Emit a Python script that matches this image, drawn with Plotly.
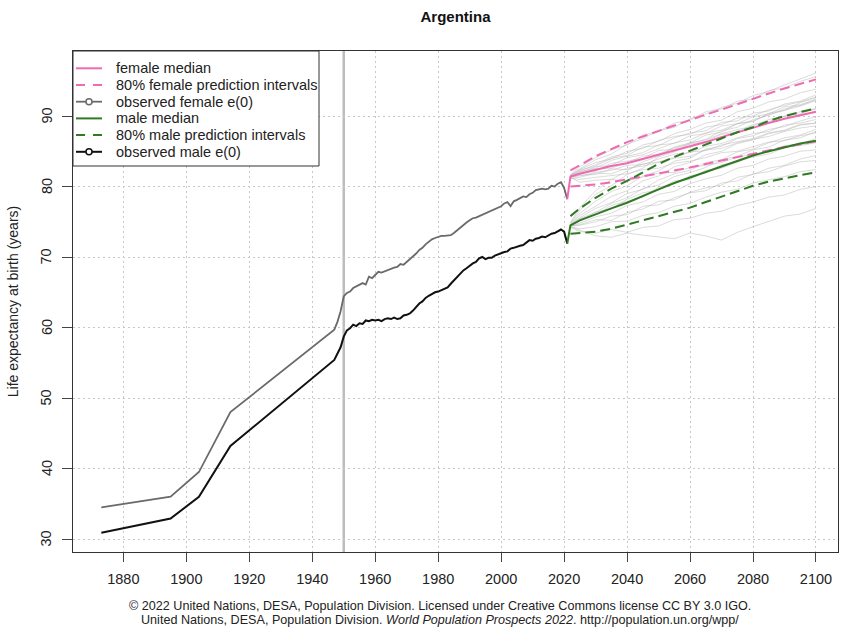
import plotly.graph_objects as go

# ---------------- data ----------------
title_text = "Argentina"
y_title = "Life expectancy at birth (years)"
split_year = 1950

years_pre = [1873, 1895, 1904, 1914, 1947, 1948, 1949]
female_pre = [34.5, 36.0, 39.5, 48.0, 59.7, 60.8, 62.3]
male_pre = [30.9, 32.9, 36.0, 43.2, 55.4, 56.2, 57.2]

years_obs = list(range(1950, 2022))
female_obs = [64.4, 64.9, 65.1, 65.6, 65.8, 66.0, 66.3, 66.1, 67.2, 67.0,
              67.5, 67.9, 67.8, 68.0, 68.2, 68.3, 68.5, 68.6, 69.0, 68.9,
              69.3, 69.6, 70.1, 70.5, 71.0, 71.3, 71.8, 72.2, 72.5, 72.7,
              72.9, 73.0, 73.0, 73.1, 73.1, 73.4, 73.8, 74.2, 74.5, 74.9,
              75.2, 75.5, 75.6, 75.8, 76.0, 76.1, 76.3, 76.5, 76.7, 77.0,
              77.2, 77.6, 77.8, 77.2, 77.9, 78.1, 78.3, 78.6, 78.5, 78.9,
              79.1, 79.5, 79.6, 79.7, 79.6, 79.7, 80.1, 80.0, 80.4, 80.6,
              79.8, 78.2]
male_obs = [58.7, 59.6, 59.9, 60.4, 60.2, 60.6, 60.5, 61.0, 60.9, 61.1,
            61.0, 61.1, 60.9, 61.2, 61.3, 61.2, 61.4, 61.2, 61.3, 61.7,
            61.8, 62.0, 62.4, 62.9, 63.4, 63.7, 64.2, 64.5, 64.8, 65.0,
            65.1, 65.3, 65.5, 65.7, 66.2, 66.7, 67.2, 67.6, 68.1, 68.4,
            68.8, 69.1, 69.3, 69.8, 70.0, 69.7, 69.9, 69.9, 70.2, 70.4,
            70.5, 70.7, 70.8, 71.2, 71.3, 71.5, 71.6, 71.7, 72.0, 72.4,
            72.3, 72.6, 72.7, 72.9, 72.8, 73.1, 73.3, 73.4, 73.7, 73.9,
            73.6, 71.9]

proj_years = [2022, 2025, 2030, 2035, 2040, 2045, 2050, 2055, 2060,
              2065, 2070, 2075, 2080, 2085, 2090, 2095, 2100]
female_median = [81.4, 81.8, 82.4, 82.9, 83.3, 83.9, 84.5, 85.0, 85.6,
                 86.3, 87.0, 87.7, 88.4, 89.0, 89.6, 90.1, 90.6]
female_upper = [82.3, 83.0, 84.3, 85.3, 86.3, 87.1, 87.9, 88.7, 89.4,
                90.2, 90.9, 91.7, 92.5, 93.2, 93.9, 94.6, 95.2]
female_lower = [80.0, 80.1, 80.3, 80.6, 81.0, 81.4, 81.8, 82.2, 82.7,
                83.2, 83.7, 84.1, 84.6, 85.1, 85.6, 86.0, 86.4]
male_median = [74.5, 75.2, 76.1, 76.9, 77.7, 78.7, 79.6, 80.5, 81.3,
               82.1, 82.9, 83.7, 84.4, 85.0, 85.6, 86.1, 86.5]
male_upper = [75.8, 76.9, 78.4, 79.7, 80.8, 82.0, 83.2, 84.2, 85.1,
              86.0, 86.9, 87.7, 88.4, 89.3, 90.0, 90.6, 91.1]
male_lower = [73.3, 73.4, 73.6, 74.0, 74.6, 75.1, 75.7, 76.4, 77.0,
              77.8, 78.6, 79.4, 80.1, 80.7, 81.2, 81.6, 82.0]

female_traj = [
    [81.6, 82.5, 83.8, 84.6, 86.0, 86.8, 87.9, 88.4, 89.6, 90.3, 91.2, 91.8, 92.9, 93.5, 94.4, 95.3, 96.1],
    [81.5, 82.2, 83.1, 84.2, 84.7, 85.9, 86.4, 87.5, 88.1, 89.0, 89.4, 90.6, 91.1, 92.0, 92.4, 93.3, 93.8],
    [81.3, 81.9, 82.2, 83.3, 83.6, 84.0, 85.1, 85.3, 86.2, 86.6, 87.5, 88.1, 88.6, 89.5, 89.9, 90.6, 91.0],
    [81.4, 81.5, 82.0, 82.3, 83.0, 83.1, 83.9, 84.6, 84.8, 85.7, 86.1, 86.9, 87.5, 87.8, 88.7, 89.0, 89.5],
    [81.2, 81.0, 81.3, 81.5, 81.8, 82.4, 82.6, 83.3, 83.6, 84.1, 84.8, 85.0, 85.7, 86.3, 86.5, 87.2, 87.6],
    [81.3, 80.6, 80.9, 81.0, 80.8, 81.4, 81.9, 82.0, 82.7, 83.0, 83.4, 84.2, 84.5, 84.9, 85.6, 85.8, 86.2],
    [81.5, 82.0, 82.8, 83.0, 84.1, 84.5, 85.3, 86.2, 86.6, 87.6, 88.0, 88.9, 89.3, 90.2, 90.8, 91.4, 92.2],
    [81.4, 81.9, 82.5, 82.6, 83.4, 84.3, 84.6, 85.5, 86.0, 86.4, 87.4, 87.7, 88.8, 89.2, 90.0, 90.3, 91.1],
    [81.6, 82.4, 83.4, 83.9, 85.0, 85.4, 86.5, 87.1, 87.4, 88.4, 88.8, 89.7, 90.0, 90.9, 91.5, 92.0, 92.7],
    [81.3, 81.6, 81.7, 82.5, 82.4, 83.2, 83.5, 84.1, 84.9, 85.1, 85.9, 86.4, 86.8, 87.6, 88.0, 88.8, 89.0],
    [81.7, 82.8, 84.1, 85.2, 85.9, 87.3, 87.8, 89.0, 89.4, 90.6, 91.0, 92.1, 92.4, 93.6, 94.0, 94.9, 95.6],
    [81.4, 82.1, 82.6, 83.7, 84.3, 84.8, 85.9, 86.1, 87.2, 87.5, 88.6, 88.9, 89.9, 90.3, 91.3, 91.6, 92.4],
    [81.2, 81.3, 81.9, 81.8, 82.6, 82.9, 83.4, 84.0, 84.3, 85.2, 85.4, 86.2, 86.7, 87.1, 87.8, 88.3, 88.6],
    [81.5, 82.3, 82.9, 84.0, 84.4, 85.6, 85.8, 86.9, 87.6, 87.9, 89.1, 89.3, 90.4, 90.7, 91.7, 92.1, 93.0],
]
male_traj = [
    [74.8, 76.6, 78.9, 80.1, 81.7, 82.6, 84.2, 84.9, 86.1, 86.7, 87.9, 88.4, 89.5, 90.1, 91.0, 91.5, 92.3],
    [74.6, 75.9, 77.2, 78.6, 79.4, 80.8, 81.5, 82.8, 83.4, 84.5, 85.0, 86.1, 86.6, 87.5, 87.9, 88.7, 89.0],
    [74.5, 75.4, 76.0, 77.3, 77.9, 78.5, 79.9, 80.4, 81.5, 81.9, 83.1, 83.4, 84.6, 84.9, 85.8, 86.0, 86.8],
    [74.4, 74.8, 75.7, 76.2, 77.3, 77.8, 78.9, 79.3, 80.4, 81.1, 81.6, 82.6, 83.0, 83.9, 84.3, 85.0, 85.2],
    [74.3, 74.0, 74.3, 75.0, 75.1, 75.9, 76.3, 77.2, 77.6, 78.5, 79.2, 79.6, 80.5, 81.0, 81.4, 82.1, 82.4],
    [74.2, 73.6, 73.4, 73.9, 73.5, 74.2, 74.4, 75.3, 75.5, 76.2, 76.5, 77.3, 77.8, 78.5, 78.8, 79.6, 80.0],
    [74.6, 75.6, 76.9, 77.7, 79.0, 79.6, 80.9, 81.8, 82.3, 83.4, 83.8, 84.9, 85.3, 86.2, 86.9, 87.3, 88.1],
    [74.5, 75.1, 76.4, 76.8, 78.2, 79.1, 79.5, 80.8, 81.0, 82.3, 82.6, 83.5, 84.2, 84.6, 85.5, 85.9, 86.3],
    [74.7, 76.2, 77.9, 79.3, 80.1, 81.5, 82.2, 83.6, 84.0, 85.3, 85.7, 86.8, 87.2, 88.1, 88.5, 89.3, 89.9],
    [74.4, 74.5, 75.0, 75.8, 76.0, 77.2, 77.4, 78.4, 79.1, 79.4, 80.5, 80.8, 81.8, 82.1, 82.9, 83.5, 83.7],
    [74.3, 73.8, 73.0, 72.8, 73.4, 73.1, 72.9, 72.6, 73.4, 73.0, 72.4, 73.5, 74.3, 75.0, 75.8, 76.1, 76.9],
    [74.9, 77.0, 79.4, 81.0, 82.2, 83.5, 84.3, 85.6, 86.2, 87.3, 87.7, 88.9, 89.2, 90.4, 90.8, 91.9, 92.6],
    [74.5, 75.5, 76.3, 77.6, 78.4, 79.7, 80.2, 81.4, 82.0, 82.7, 83.8, 84.3, 85.2, 85.6, 86.6, 86.9, 87.8],
    [74.4, 74.6, 75.3, 75.2, 76.3, 76.8, 77.9, 78.1, 79.2, 79.8, 80.2, 81.3, 81.7, 82.6, 83.0, 83.9, 84.4],
]

x_ticks = list(range(1880, 2101, 20))
y_ticks = list(range(30, 91, 10))

legend_labels = ["female median", "80% female prediction intervals", "observed female e(0)",
                 "male median", "80% male prediction intervals", "observed male e(0)"]

footer_line1 = "© 2022 United Nations, DESA, Population Division. Licensed under Creative Commons license CC BY 3.0 IGO."
footer_line2 = "United Nations, DESA, Population Division. <i>World Population Prospects 2022</i>. http://population.un.org/wpp/"

# ---------------- style ----------------
FONT = "Liberation Sans, Arial, sans-serif"
PINK = "#F06AB2"
GREEN = "#2F7A22"
OBS_F = "#6A6A6A"
OBS_M = "#111111"
TRAJ = "rgba(175,175,175,0.45)"
DASH = "10px,5px"
TXT = "#222222"

# plot-area geometry in pixels (for converting legend layout to paper units)
W, H = 844, 629
ML, MR, MT, MB = 73, 6, 51, 77
PW, PH = W - ML - MR, H - MT - MB


def px_x(p):
    return (p - ML) / PW


def px_y(p):
    return (H - MB - p) / PH


fig = go.Figure()

for tr in female_traj + male_traj:
    fig.add_trace(go.Scatter(x=proj_years, y=tr, mode="lines",
                             line=dict(color=TRAJ, width=1),
                             showlegend=False, hoverinfo="skip"))

obs_years = years_pre + years_obs
f_all = female_pre + female_obs
m_all = male_pre + male_obs

fig.add_trace(go.Scatter(x=obs_years, y=f_all, mode="lines", name=legend_labels[2],
                         line=dict(color=OBS_F, width=1.8), showlegend=False))
fig.add_trace(go.Scatter(x=obs_years, y=m_all, mode="lines", name=legend_labels[5],
                         line=dict(color=OBS_M, width=2), showlegend=False))

last_year = years_obs[-1]
fig.add_trace(go.Scatter(x=proj_years, y=female_upper, mode="lines", name=legend_labels[1],
                         line=dict(color=PINK, width=2, dash=DASH), showlegend=False))
fig.add_trace(go.Scatter(x=proj_years, y=female_lower, mode="lines", name=legend_labels[1],
                         line=dict(color=PINK, width=2, dash=DASH), showlegend=False))
fig.add_trace(go.Scatter(x=[last_year] + proj_years, y=[female_obs[-1]] + female_median,
                         mode="lines", line=dict(color=PINK, width=2),
                         name=legend_labels[0], showlegend=False))
fig.add_trace(go.Scatter(x=proj_years, y=male_upper, mode="lines", name=legend_labels[4],
                         line=dict(color=GREEN, width=2, dash=DASH), showlegend=False))
fig.add_trace(go.Scatter(x=proj_years, y=male_lower, mode="lines", name=legend_labels[4],
                         line=dict(color=GREEN, width=2, dash=DASH), showlegend=False))
fig.add_trace(go.Scatter(x=[last_year] + proj_years, y=[male_obs[-1]] + male_median,
                         mode="lines", line=dict(color=GREEN, width=2),
                         name=legend_labels[3], showlegend=False))

# vertical separator at the start of annual data
fig.add_shape(type="line", xref="x", yref="paper", x0=split_year, x1=split_year,
              y0=0, y1=1, line=dict(color="#BDBDBD", width=2.5), layer="below")

# ---- legend box (R-style, compact rows) ----
leg_styles = [
    dict(color=PINK, width=2, dash="solid", marker=False),
    dict(color=PINK, width=2, dash="9px,8px", marker=False),
    dict(color=OBS_F, width=1.8, dash="solid", marker=True),
    dict(color=GREEN, width=2, dash="solid", marker=False),
    dict(color=GREEN, width=2, dash="9px,8px", marker=False),
    dict(color=OBS_M, width=2, dash="solid", marker=True),
]
leg_top, leg_bottom, leg_right = 51, 166, 319
row_y0, row_step = 68.3, 16.7
fig.add_shape(type="rect", xref="paper", yref="paper",
              x0=px_x(ML), x1=px_x(leg_right), y0=px_y(leg_bottom), y1=px_y(leg_top),
              fillcolor="white", line=dict(color="#333333", width=1), layer="above")
legend_annotations = []
for i, (lab, st) in enumerate(zip(legend_labels, leg_styles)):
    yy = row_y0 + i * row_step
    fig.add_shape(type="line", xref="paper", yref="paper",
                  x0=px_x(76), x1=px_x(102), y0=px_y(yy), y1=px_y(yy),
                  line=dict(color=st["color"], width=st["width"], dash=st["dash"]),
                  layer="above")
    if st["marker"]:
        fig.add_shape(type="circle", xref="paper", yref="paper",
                      x0=px_x(86), x1=px_x(92), y0=px_y(yy + 3), y1=px_y(yy - 3),
                      fillcolor="white", line=dict(color=st["color"], width=1.5),
                      layer="above")
    legend_annotations.append(dict(text=lab, xref="paper", yref="paper",
                                   x=px_x(114), y=px_y(yy), xanchor="left", yanchor="middle",
                                   showarrow=False, font=dict(size=14.5, color=TXT)))

# rotated y tick labels (placed on the y scale)
ytick_annotations = [
    dict(text=str(v), xref="paper", yref="y", x=0, y=v, xshift=-26.5,
         xanchor="center", yanchor="middle", textangle=-90, showarrow=False,
         font=dict(size=14.5, color=TXT))
    for v in y_ticks
]

fig.update_layout(
    width=W, height=H,
    margin=dict(l=ML, r=MR, t=MT, b=MB),
    paper_bgcolor="white", plot_bgcolor="white",
    font=dict(family=FONT, size=14, color=TXT),
    title=dict(text="<b>" + title_text + "</b>", x=0.5, xref="paper",
               y=1 - 17 / H, yanchor="middle", font=dict(size=15, color="#111")),
    showlegend=False,
    xaxis=dict(range=[1864.0, 2107.0], tickmode="array", tickvals=x_ticks,
               ticks="outside", ticklen=9, tickcolor="#444", tickwidth=1,
               ticklabelstandoff=5,
               showline=True, linecolor="#333", linewidth=1, mirror=True,
               showgrid=True, gridcolor="#C8C8C8", griddash="2px,3px", gridwidth=1,
               zeroline=False, automargin=False,
               tickfont=dict(size=14.5, color=TXT)),
    yaxis=dict(range=[28.16, 99.22], tickmode="array", tickvals=y_ticks,
               ticks="outside", ticklen=10, tickcolor="#444", tickwidth=1,
               showticklabels=False,
               showline=True, linecolor="#333", linewidth=1, mirror=True,
               showgrid=True, gridcolor="#C8C8C8", griddash="2px,3px", gridwidth=1,
               zeroline=False, automargin=False,
               title=dict(text=y_title, standoff=40, font=dict(size=14, color=TXT))),
    annotations=ytick_annotations + legend_annotations + [
        dict(text=footer_line1, xref="paper", yref="paper",
             x=px_x(439.5), y=px_y(606), xanchor="center", yanchor="middle",
             showarrow=False, font=dict(size=12.6, color=TXT)),
        dict(text=footer_line2, xref="paper", yref="paper",
             x=px_x(439.5), y=px_y(620), xanchor="center", yanchor="middle",
             showarrow=False, font=dict(size=12.6, color=TXT)),
    ],
)

fig.write_html("out.html", config={"displayModeBar": False},
               post_script="document.body.style.margin='0';document.body.style.padding='0';")
